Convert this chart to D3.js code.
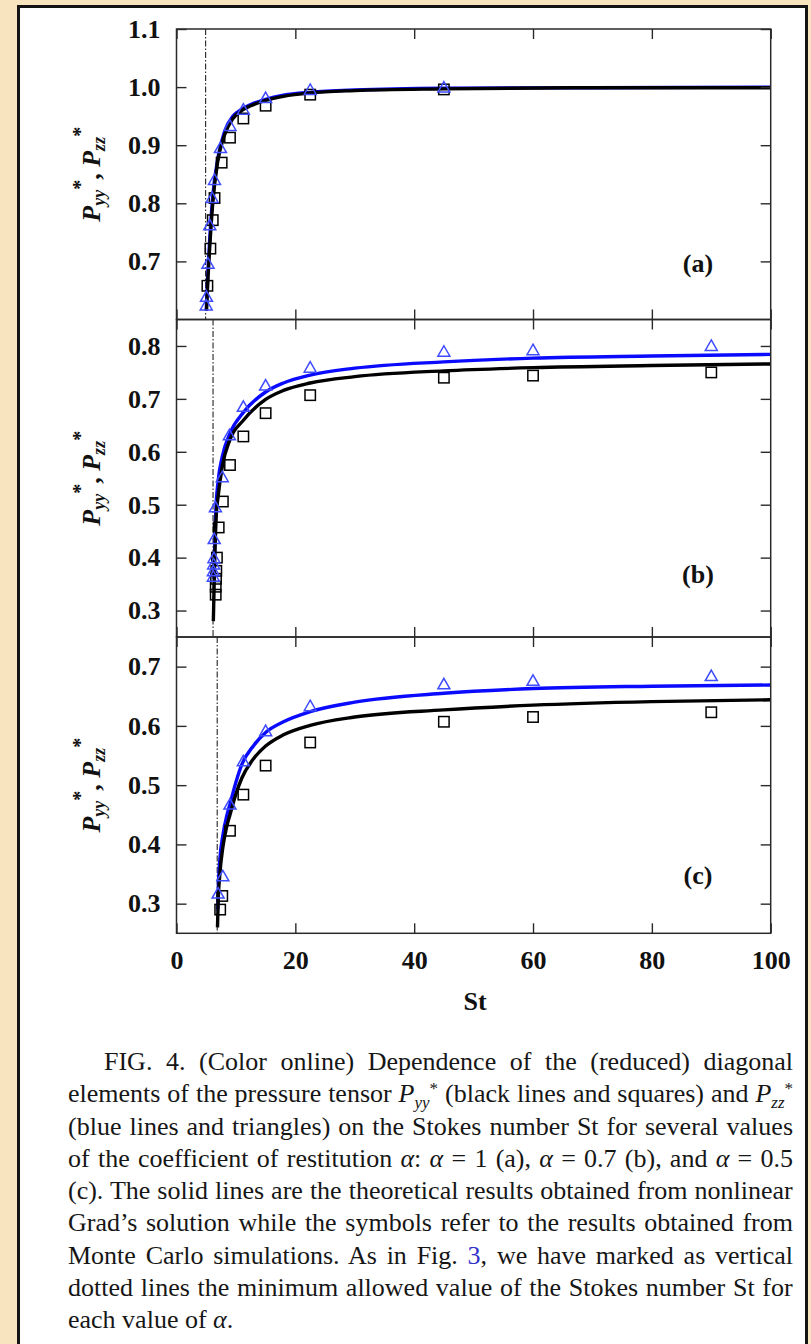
<!DOCTYPE html>
<html>
<head>
<meta charset="utf-8">
<script src="https://cdn.jsdelivr.net/npm/d3@7"></script>
<style>
  body { margin: 0; background: #f8e5bf; }
  svg text { font-family: "Liberation Serif", "Times New Roman", serif; }
</style>
</head>
<body>
<svg id="fig"></svg>
<script>
// ---- data ----
const stTicks = [0, 20, 40, 60, 80, 100];
const yTicksA = [0.7, 0.8, 0.9, 1.0, 1.1];
const yTicksB = [0.3, 0.4, 0.5, 0.6, 0.7, 0.8];
const yTicksC = [0.3, 0.4, 0.5, 0.6, 0.7];
const minStA = 4.9, minStB = 6.15, minStC = 6.85;
const panelTags = ['(a)', '(b)', '(c)'];

// theory (Grad) curves: [St, P*]
const curveYyA = [[5.05,0.615],[5.3,0.672],[5.6,0.726],[6.1,0.800],[6.9,0.870],[8.1,0.918],[9.5,0.946],[11,0.960],[12.5,0.968],[15,0.977],[18,0.984],[22.5,0.990],[30,0.994],[45,0.997],[70,0.999],[100,0.999]];
const curveZzA = [[5.0,0.615],[5.3,0.685],[5.6,0.740],[6.1,0.812],[7.0,0.880],[8.1,0.924],[9.5,0.950],[11,0.962],[12.5,0.970],[15,0.979],[18,0.986],[22.5,0.991],[30,0.995],[45,0.998],[70,0.999],[100,1.0]];
const curveYyB = [[6.2,0.28],[6.3,0.33],[6.4,0.38],[6.67,0.475],[7.0,0.515],[7.7,0.572],[9,0.623],[11.3,0.660],[15,0.699],[18,0.716],[22.5,0.730],[30,0.742],[45,0.753],[60,0.759],[80,0.763],[100,0.766]];
const curveZzB = [[6.3,0.36],[6.45,0.43],[6.6,0.484],[7.0,0.544],[7.7,0.591],[9,0.635],[11.3,0.675],[15,0.713],[18,0.730],[22.5,0.745],[30,0.758],[45,0.770],[60,0.777],[80,0.781],[100,0.784]];
const curveYyC = [[6.9,0.26],[7.0,0.30],[7.3,0.35],[7.8,0.395],[8.5,0.432],[9,0.450],[10,0.485],[11,0.512],[13,0.545],[15,0.566],[18,0.585],[22.5,0.601],[30,0.615],[45,0.627],[60,0.635],[80,0.641],[100,0.644]];
const curveZzC = [[6.95,0.29],[7.05,0.33],[7.3,0.375],[7.8,0.415],[8.5,0.450],[9,0.468],[10,0.505],[11,0.535],[13,0.567],[15,0.589],[18,0.607],[22.5,0.624],[30,0.640],[45,0.655],[60,0.663],[80,0.667],[100,0.669]];

// Monte Carlo points: squares = P*yy, triangles = P*zz
const mcYyA = [[5.2,0.658],[5.7,0.722],[6.1,0.771],[6.4,0.809],[7.6,0.870],[9,0.913],[11.25,0.946],[15,0.968],[22.5,0.987],[45,0.996]];
const mcZzA = [[5.0,0.625],[5.05,0.640],[5.3,0.697],[5.6,0.763],[6.0,0.810],[6.4,0.841],[7.4,0.896],[9,0.934],[11.25,0.962],[15,0.982],[22.5,0.996],[45,1.0]];
const mcYyB = [[6.6,0.330],[6.6,0.345],[6.65,0.360],[6.7,0.375],[6.8,0.400],[7.1,0.457],[7.8,0.506],[9,0.575],[11.25,0.629],[15,0.673],[22.5,0.707],[45,0.740],[60,0.744],[90,0.750]];
const mcZzB = [[6.2,0.365],[6.2,0.375],[6.25,0.388],[6.3,0.400],[6.35,0.436],[6.55,0.496],[7.7,0.553],[8.9,0.632],[11.25,0.686],[15,0.726],[22.5,0.760],[45,0.790],[60,0.793],[90,0.801]];
const mcYyC = [[7.35,0.290],[7.7,0.313],[9,0.423],[11.25,0.484],[15,0.533],[22.5,0.572],[45,0.607],[60,0.615],[90,0.623]];
const mcZzC = [[7.0,0.318],[7.8,0.347],[9,0.468],[11.25,0.541],[15,0.592],[22.5,0.634],[45,0.671],[60,0.677],[90,0.685]];

// caption, one entry per printed line
const captionLines = [
  [{t: 'FIG. 4. (Color online) Dependence of the (reduced) diagonal'}],
  [{t: 'elements of the pressure tensor '}, {t: 'P', i: true}, {t: 'yy', i: true, sub: true}, {t: '*', sup: true},
   {t: ' (black lines and squares) and '}, {t: 'P', i: true}, {t: 'zz', i: true, sub: true}, {t: '*', sup: true}],
  [{t: '(blue lines and triangles) on the Stokes number St for several values'}],
  [{t: 'of the coefficient of restitution '}, {t: 'α', i: true}, {t: ': '}, {t: 'α', i: true}, {t: ' = 1 (a), '},
   {t: 'α', i: true}, {t: ' = 0.7 (b), and '}, {t: 'α', i: true}, {t: ' = 0.5'}],
  [{t: '(c). The solid lines are the theoretical results obtained from nonlinear'}],
  [{t: 'Grad’s solution while the symbols refer to the results obtained from'}],
  [{t: 'Monte Carlo simulations. As in Fig. '}, {t: '3', blue: true}, {t: ', we have marked as vertical'}],
  [{t: 'dotted lines the minimum allowed value of the Stokes number St for'}],
  [{t: 'each value of '}, {t: 'α', i: true}, {t: '.'}]
];

// ---- layout ----
const W = 811, H = 1344;
const plotLeft = 176.5, plotRight = 770.7;
const black = '#000', blue = '#0a0aff', triBlue = '#3f4cff', axisCol = '#2a2a2a';

const svg = d3.select('#fig').attr('width', W).attr('height', H);

svg.append('rect').attr('width', W).attr('height', H).attr('fill', '#f8e5bf');
svg.append('rect')
    .attr('x', 18.5).attr('y', 6.5)
    .attr('width', 788).attr('height', H + 20)
    .attr('fill', '#fff')
    .attr('stroke', '#141414')
    .attr('stroke-width', 3);

const x = d3.scaleLinear().domain([0, 100]).range([plotLeft, plotRight]);

const panels = [
    {key: 'a', domain: [0.6, 1.1], range: [319.5, 29], ticks: yTicksA, minSt: minStA, yy: curveYyA, zz: curveZzA, sq: mcYyA, tri: mcZzA},
    {key: 'b', domain: [0.25, 0.85], range: [637, 319.5], ticks: yTicksB, minSt: minStB, yy: curveYyB, zz: curveZzB, sq: mcYyB, tri: mcZzB},
    {key: 'c', domain: [0.25, 0.75], range: [933.3, 637], ticks: yTicksC, minSt: minStC, yy: curveYyC, zz: curveZzC, sq: mcYyC, tri: mcZzC}
];

panels.forEach((p, idx) => {
    const y = d3.scaleLinear().domain(p.domain).range(p.range);
    const top = p.range[1], bottom = p.range[0];
    const g = svg.append('g').attr('id', 'panel-' + p.key);

    svg.append('clipPath').attr('id', 'clip-' + p.key)
        .append('rect')
        .attr('x', plotLeft).attr('y', top)
        .attr('width', plotRight - plotLeft).attr('height', bottom - top);

    const plot = g.append('g').attr('clip-path', `url(#clip-${p.key})`);

    // minimum allowed St
    plot.append('line')
        .attr('x1', x(p.minSt)).attr('x2', x(p.minSt))
        .attr('y1', top).attr('y2', bottom)
        .attr('stroke', '#222')
        .attr('stroke-width', 1.1)
        .attr('stroke-dasharray', '6,2,1.5,2');

    const line = d3.line()
        .x(d => x(d[0]))
        .y(d => y(d[1]))
        .curve(d3.curveMonotoneX);

    plot.append('path').datum(p.zz)
        .attr('d', line)
        .attr('fill', 'none')
        .attr('stroke', blue)
        .attr('stroke-width', 3.4);

    plot.append('path').datum(p.yy)
        .attr('d', line)
        .attr('fill', 'none')
        .attr('stroke', black)
        .attr('stroke-width', 3.4);

    plot.selectAll('rect.sq').data(p.sq).enter()
        .append('rect')
        .attr('class', 'sq')
        .attr('x', d => x(d[0]) - 5.2)
        .attr('y', d => y(d[1]) - 5.2)
        .attr('width', 10.4).attr('height', 10.4)
        .attr('fill', 'none')
        .attr('stroke', black)
        .attr('stroke-width', 1.5);

    plot.selectAll('path.tri').data(p.tri).enter()
        .append('path')
        .attr('class', 'tri')
        .attr('d', d => {
            const cx = x(d[0]), cy = y(d[1]);
            return `M${cx},${cy - 5.5}L${cx + 6},${cy + 5}L${cx - 6},${cy + 5}Z`;
        })
        .attr('fill', 'none')
        .attr('stroke', triBlue)
        .attr('stroke-width', 1.5);

    // frame
    g.append('rect')
        .attr('x', plotLeft).attr('y', top)
        .attr('width', plotRight - plotLeft).attr('height', bottom - top)
        .attr('fill', 'none')
        .attr('stroke', axisCol)
        .attr('stroke-width', 1.5);

    // axes, ticks pointing inward
    const yLeft = g.append('g').attr('transform', `translate(${plotLeft},0)`)
        .call(d3.axisLeft(y).tickValues(p.ticks).tickSize(-10).tickPadding(16).tickFormat(d3.format('.1f')));
    const yRight = g.append('g').attr('transform', `translate(${plotRight},0)`)
        .call(d3.axisRight(y).tickValues(p.ticks).tickSize(-10).tickFormat(''));
    const xTop = g.append('g').attr('transform', `translate(0,${top})`)
        .call(d3.axisTop(x).tickValues(stTicks).tickSize(-10).tickFormat(''));
    const xAxisB = d3.axisBottom(x).tickValues(stTicks).tickSize(-10).tickPadding(17);
    if (idx < panels.length - 1) xAxisB.tickFormat('');
    else xAxisB.tickFormat(d3.format('d'));
    const xBottom = g.append('g').attr('transform', `translate(0,${bottom})`).call(xAxisB);

    [yLeft, yRight, xTop, xBottom].forEach(a => {
        a.select('.domain').remove();
        a.selectAll('line').attr('stroke', axisCol).attr('stroke-width', 1.4);
        a.selectAll('text')
            .attr('font-family', '"Liberation Serif", serif')
            .attr('font-weight', 'bold')
            .attr('font-size', 26)
            .attr('fill', '#111');
    });

    // panel tag
    g.append('text')
        .attr('x', 698).attr('y', (idx === 0 ? 264 : idx === 1 ? 575 : 876) + 8)
        .attr('text-anchor', 'middle')
        .attr('font-weight', 'bold')
        .attr('font-size', 26)
        .attr('fill', '#111')
        .text(panelTags[idx]);

    // y label  P*yy , P*zz
    const lab = g.append('text')
        .attr('transform', `translate(100,${(top + bottom) / 2}) rotate(-90)`)
        .attr('text-anchor', 'middle')
        .attr('font-weight', 'bold')
        .attr('font-style', 'italic')
        .attr('font-size', 26)
        .attr('fill', '#111');
    lab.append('tspan').text('P');
    lab.append('tspan').attr('font-size', 18).attr('dy', 5).text('yy');
    lab.append('tspan').attr('font-size', 20).attr('font-style', 'normal').attr('dy', -18).text('*');
    lab.append('tspan').attr('font-style', 'normal').attr('dy', 13).text(', ');
    lab.append('tspan').text('P');
    lab.append('tspan').attr('font-size', 18).attr('dy', 5).text('zz');
    lab.append('tspan').attr('font-size', 20).attr('font-style', 'normal').attr('dy', -18).text('*');
});

// x title
svg.append('text')
    .attr('x', 475).attr('y', 1010)
    .attr('text-anchor', 'middle')
    .attr('font-weight', 'bold')
    .attr('font-size', 26)
    .attr('fill', '#111')
    .text('St');

// ---- caption, justified line by line ----
const capRight = 793, capTop = 1070, capStep = 32.25;
const cap = svg.append('g').attr('font-size', 26).attr('fill', '#161616');

captionLines.forEach((segs, i) => {
    const left = i === 0 ? 104 : 68;
    const t = cap.append('text')
        .attr('x', left)
        .attr('y', capTop + i * capStep)
        .style('white-space', 'pre');
    let shift = 0;
    segs.forEach(s => {
        const ts = t.append('tspan').text(s.t);
        let sh = 0;
        if (s.sup) { sh = -8; ts.attr('font-size', 17); }
        if (s.sub) { sh = 6; ts.attr('font-size', 17); }
        if (s.i) ts.attr('font-style', 'italic');
        if (s.blue) ts.attr('fill', '#3030c8');
        if (sh !== shift) { ts.attr('dy', sh - shift); shift = sh; }
    });
    if (i < captionLines.length - 1) {
        const natural = t.node().getBBox().width;
        const spaces = (t.text().match(/ /g) || []).length;
        t.attr('word-spacing', (capRight - left - natural) / spaces);
    }
});
</script>
</body>
</html>
